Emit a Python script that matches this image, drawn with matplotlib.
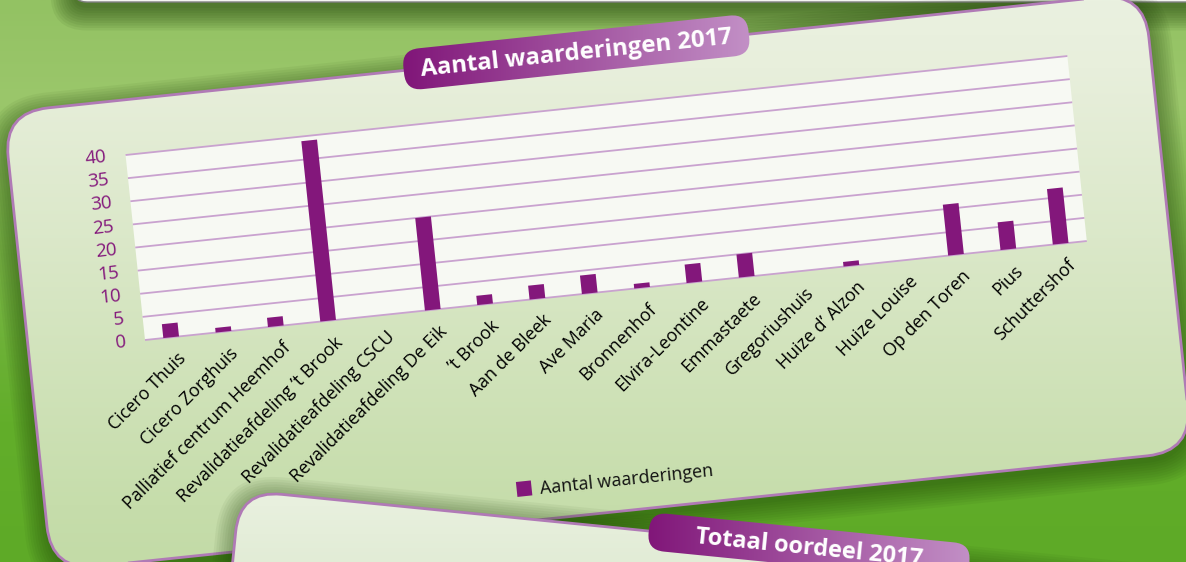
import numpy as np
import matplotlib
matplotlib.use('Agg')
import matplotlib.pyplot as plt
from matplotlib.patches import FancyBboxPatch, Rectangle
from matplotlib.transforms import Affine2D
from matplotlib.colors import to_rgb

plt.rcParams['font.family'] = ['Open Sans', 'DejaVu Sans']

# gegevens
categories = ['Cicero Thuis', 'Cicero Zorghuis', 'Palliatief centrum Heemhof',
              'Revalidatieafdeling \u2019t Brook', 'Revalidatieafdeling CSCU',
              'Revalidatieafdeling De Eik', '\u2019t Brook', 'Aan de Bleek',
              'Ave Maria', 'Bronnenhof', 'Elvira-Leontine', 'Emmastaete',
              'Gregoriushuis', 'Huize d\u2019 Alzon', 'Huize Louise',
              'Op den Toren', 'Pius', 'Schuttershof']
waarderingen = [3, 1, 2, 39, 0, 20, 2, 3, 4, 1, 4, 5, 0, 1, 0, 11, 6, 12]
yticks = [0, 5, 10, 15, 20, 25, 30, 35, 40]
titel = 'Aantal waarderingen 2017'
reeks = 'Aantal waarderingen'
titel2 = 'Totaal oordeel 2017'

PAARS = '#83177b'
GRID = '#c9a2cf'
RAND = '#b07ab6'
W, H = 1186, 562

fig = plt.figure(figsize=(W / 100, H / 100), dpi=100)
ax = fig.add_axes([0, 0, 1, 1])
ax.axis('off')


def verloop(stops, n):
    # lineair kleurverloop over n stappen
    pos = np.linspace(0, 1, n)
    ps = [s[0] for s in stops]
    rgb = np.array([to_rgb(s[1]) for s in stops])
    out = np.zeros((n, 3))
    for k in range(3):
        out[:, k] = np.interp(pos, ps, rgb[:, k])
    return out


def gradient(stops, extent, patch=None, horizontal=False, z=0):
    x0, x1, y0, y1 = extent
    rgb = verloop(stops, 256)
    img = rgb[None, :, :] if horizontal else rgb[:, None, :]
    im = ax.imshow(img, extent=(x0, x1, y1, y0), origin='upper',
                   aspect='auto', interpolation='bilinear', zorder=z)
    if patch is not None:
        im.set_clip_path(patch)
    return im


def rond(x, y, w, h, r, tr, **kw):
    p = FancyBboxPatch((x, y), w, h, boxstyle='round,pad=0,rounding_size=%g' % r,
                       transform=tr, **kw)
    ax.add_patch(p)
    return p


def schaduw(x, y, w, h, r, tr, dy=-6, n=9, stap=2.5, a=0.05, z=1):
    for k in range(n):
        g = k * stap
        rond(x - g, y - g + dy, w + 2 * g, h + 2 * g, r + g, tr,
             fc='#1b3d06', ec='none', alpha=a, zorder=z)


# achtergrond
gradient([(0, '#93c263'), (0.18, '#9bc76b'), (0.45, '#79b446'),
          (0.75, '#62ae2a'), (1, '#5eaa27')], (0, W, 0, H), z=0)

# paneel bovenaan (rand)
schaduw(73, -80, 1300, 82, 14, ax.transData, dy=6, n=10, stap=2.5, a=0.07, z=1)
rond(73, -80, 1300, 82, 14, ax.transData, fc='#f3f5ef', ec='#808080', lw=1, zorder=2)

# hoofdpaneel, 6 graden gedraaid
rot1 = Affine2D().rotate_deg(6).scale(1, -1).translate(145, 340)
tr1 = rot1 + ax.transData
pan = (-117, -220, 1147, 461)
schaduw(*pan, 45, tr1, dy=-7, n=10, stap=2.5, a=0.055, z=3)
p1 = rond(*pan, 45, tr1, fc='none', ec='none', zorder=4)
gradient([(0, '#eaf1e0'), (0.12, '#e8efdc'), (0.9, '#c6ddab'), (1, '#c3dba7')],
         (0, W, 0, H), patch=p1, z=4)
rond(*pan, 45, tr1, fc='none', ec=RAND, lw=2, zorder=4.5)

# grafiek in het paneel
stap = 947 / len(categories)
vschaal = 186 / 40
chart_tr = Affine2D().scale(stap, vschaal).translate(stap / 2, 0) + tr1
n = len(categories)
ax.add_patch(Rectangle((-0.5, 0), n, yticks[-1], transform=chart_tr,
                       fc='#f7f9f3', ec='none', zorder=5))
ax.hlines(yticks, -0.5, n - 0.5, colors=GRID, lw=1.3, transform=chart_tr, zorder=6)
ax.bar(range(n), waarderingen, width=0.3, color=PAARS, transform=chart_tr, zorder=7)

for g in yticks:
    ax.text(-0.5 - 19 / stap, g, str(g), transform=chart_tr, ha='right', va='center',
            rotation=6, rotation_mode='anchor', color=PAARS, fontsize=13.5, zorder=8)
for i, c in enumerate(categories):
    ax.text(i + 4 / stap, -13 / vschaal, c, transform=chart_tr, ha='right', va='top',
            rotation=45, rotation_mode='anchor', color='black', fontsize=12.9, zorder=8)

# legenda
ax.add_patch(Rectangle((354, -195), 15, 15, transform=tr1, fc=PAARS, ec='none', zorder=8))
ax.text(377, -189, reeks, transform=tr1, ha='left', va='center', rotation=6,
        rotation_mode='anchor', fontsize=13, color='#111111', zorder=8)

# titel
pil1 = rond(285.5, 220.5, 347, 41, 17, tr1, fc='none', ec='none', zorder=9)
gradient([(0, '#7f1377'), (1, '#c493c8')], (395, 760, 0, 120), patch=pil1,
         horizontal=True, z=9)
ax.text(459, 240, titel, transform=tr1, ha='center', va='center', rotation=6,
        rotation_mode='anchor', fontsize=17.3, fontweight='bold', color='white', zorder=10)

# tweede paneel, andere kant op gedraaid
rot2 = Affine2D().rotate_deg(-5.7).scale(1, -1).translate(809, 547)
tr2 = rot2 + ax.transData
pan2 = (-572, -400, 1400, 400)
schaduw(*pan2, 42, tr2, dy=-3, n=9, stap=2.5, a=0.05, z=11)
p2 = rond(*pan2, 42, tr2, fc='none', ec='none', zorder=12)
gradient([(0, '#eef4e6'), (1, '#e2ecd6')], (0, W, 450, H), patch=p2, z=12)
rond(*pan2, 42, tr2, fc='none', ec=RAND, lw=2, zorder=12.5)

pil2 = rond(-161, -19, 322, 38, 17, tr2, fc='none', ec='none', zorder=13)
gradient([(0, '#7f1377'), (1, '#c493c8')], (640, 980, 490, H), patch=pil2,
         horizontal=True, z=13)
ax.text(0, -1, titel2, transform=tr2, ha='center', va='center', rotation=-5.7,
        rotation_mode='anchor', fontsize=17, fontweight='bold', color='white', zorder=14)

ax.set_xlim(0, W)
ax.set_ylim(H, 0)
ax.set_aspect('auto')
fig.savefig('out.png', dpi=100)
